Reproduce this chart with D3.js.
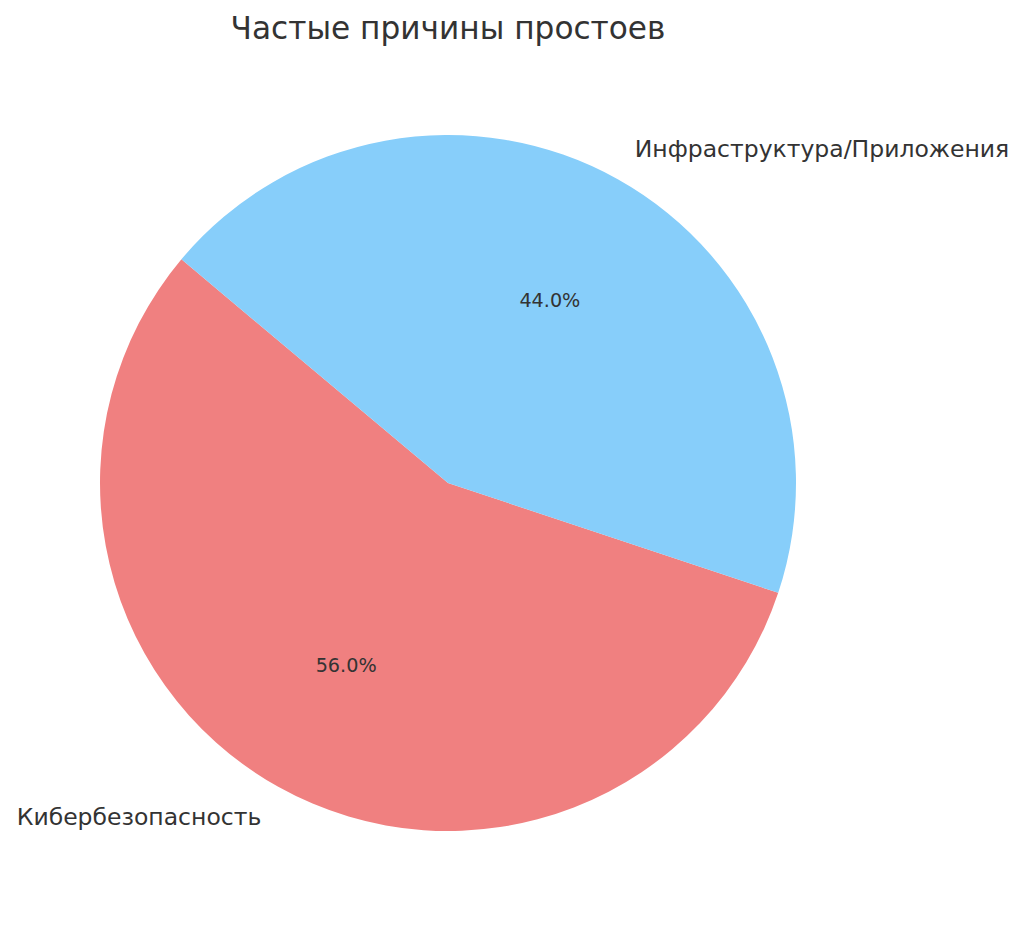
<!DOCTYPE html>
<html><head><meta charset="utf-8">
<script src="https://cdn.jsdelivr.net/npm/d3@7"></script>
<style>body{margin:0;background:#fff}svg{display:block}text{font-family:"DejaVu Sans",sans-serif;fill:#333}</style>
</head><body><svg id="c" width="1024" height="932"></svg>
<script>
const categories = ["Кибербезопасность", "Инфраструктура/Приложения"];
const values = [56, 44];
const colors = ["#F08080", "#87CEFA"];
const title = "Частые причины простоев";

const svg = d3.select("#c");
const cx = 448, cy = 483, r = 348;
const startDeg = 140; // start angle, counterclockwise from east
const total = d3.sum(values);
const toD3 = deg => (90 - deg) * Math.PI / 180;
const angleScale = d3.scaleLinear().domain([0, total]).range([startDeg, startDeg + 360]);
let acc = 0;
const slices = values.map((v, i) => {
  const a0 = angleScale(acc); acc += v; const a1 = angleScale(acc);
  return {i, v, a0, a1};
});
const arc = d3.arc().innerRadius(0).outerRadius(r);
const g = svg.append("g").attr("transform", `translate(${cx},${cy})`);
g.selectAll("path").data(slices).join("path")
  .attr("d", d => arc({startAngle: toD3(d.a1), endAngle: toD3(d.a0)}))
  .attr("fill", d => colors[d.i]);
const fmt = d3.format(".1f");
slices.forEach(d => {
  const mid = (d.a0 + d.a1) / 2 * Math.PI / 180;
  const lx = 1.1 * r * Math.cos(mid), ly = -1.1 * r * Math.sin(mid);
  g.append("text").attr("x", lx).attr("y", ly).attr("dy", "0.35em")
    .attr("text-anchor", lx < 0 ? "end" : "start").attr("font-size", 23.5)
    .text(categories[d.i]);
  const px = 0.6 * r * Math.cos(mid), py = -0.6 * r * Math.sin(mid);
  g.append("text").attr("x", px).attr("y", py).attr("dy", "0.35em")
    .attr("text-anchor", "middle").attr("font-size", 19.2)
    .text(fmt(d.v / total * 100) + "%");
});
svg.append("text").attr("x", cx).attr("y", 39).attr("text-anchor", "middle")
  .attr("font-size", 31.2).text(title);
</script></body></html>
